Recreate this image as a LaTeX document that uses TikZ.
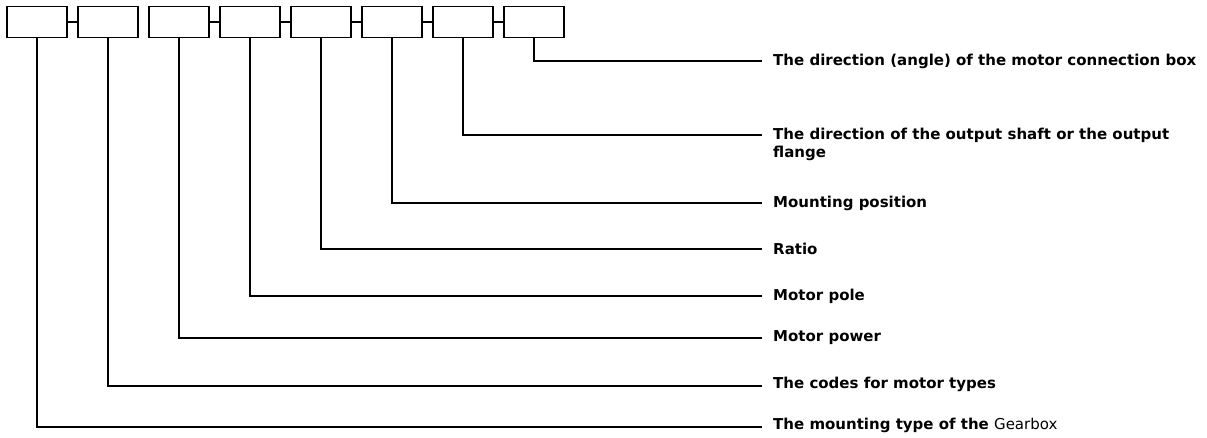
\documentclass[tikz,border=0pt]{standalone}
\usepackage{fontspec}
\setmainfont{DejaVu Sans}
\begin{document}
\begin{tikzpicture}[x=1pt,y=-1pt,
  codebox/.style={draw,line width=1.4pt,minimum width=60pt,minimum height=31pt,inner sep=0pt},
  wire/.style={line width=1.4pt},
  link/.style={line width=2pt},
  lbl/.style={anchor=west,inner sep=0pt,font=\fontsize{15}{18}\selectfont\bfseries,align=left}]
\useasboundingbox (0,0) rectangle (1207,437);
\foreach \i in {1,...,8}{
  \node[codebox] (b\i) at ({37+71*(\i-1)},22) {};
}
\foreach \a/\b in {1/2,3/4,4/5,5/6,6/7,7/8}{
  \draw[link] (b\a.east) -- (b\b.west);
}
\coordinate (c8) at (762,61);
\coordinate (c7) at (762,135);
\coordinate (c6) at (762,203);
\coordinate (c5) at (762,249);
\coordinate (c4) at (762,296);
\coordinate (c3) at (762,338);
\coordinate (c2) at (762,386);
\coordinate (c1) at (762,427);
\node[lbl] (l8) at (773,61) {The direction (angle) of the motor connection box};
\node[lbl,anchor=north west] (l7) at (773,128) {The direction of the output shaft or the output\\flange};
\node[lbl] (l6) at (773,203) {Mounting position};
\node[lbl] (l5) at (773,249) {Ratio};
\node[lbl] (l4) at (773,296) {Motor pole};
\node[lbl] (l3) at (773,338) {Motor power};
\node[lbl] (l2) at (773,384) {The codes for motor types};
\node[lbl] (l1) at (773,425) {The mounting type of the \mdseries Gearbox};
\foreach \i in {1,...,8}{
  \draw[wire] (b\i.south) |- (c\i);
}
\end{tikzpicture}
\end{document}
